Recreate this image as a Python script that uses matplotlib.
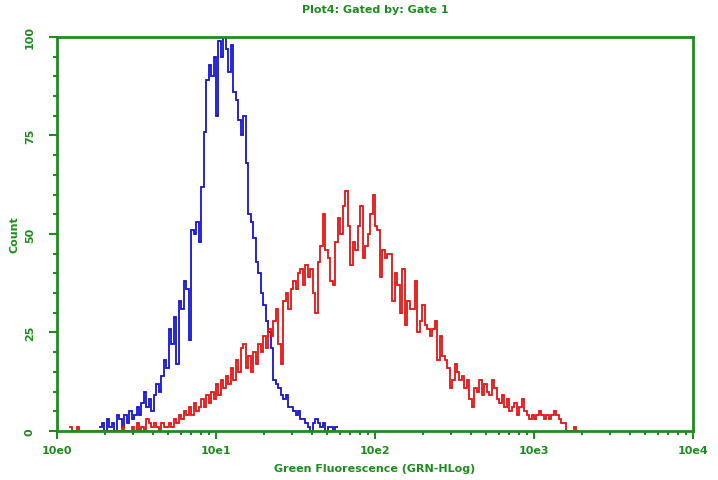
import numpy as np
import matplotlib
matplotlib.use("Agg")
import matplotlib.pyplot as plt
from matplotlib.ticker import FixedLocator, NullFormatter

# ---- data: 256 log channels over 4 decades (64 channels / decade) ----
channels_per_decade = 64

blue_start = 17
blue_counts = [1, 2, 0, 3, 1, 2, 0, 4,
               3, 1, 4, 2, 5, 3, 4, 6, 4,
               7, 10, 6, 8, 5, 9, 12, 10, 14, 18, 16, 26, 22, 29, 17, 33, 31, 38, 36, 23,
               51, 50, 53, 48, 62, 76, 89, 93, 90, 95, 80, 99, 95, 100, 97, 91, 98, 86,
               84, 79, 75, 80, 68, 55, 53, 49, 43, 40, 35, 32, 28, 25, 21, 13, 12, 11,
               9, 8, 9, 6, 6, 5, 4, 5, 3, 3, 2, 1, 0, 2, 3, 2, 1, 2, 0, 1, 1, 0, 1]

red_start = 5
red_counts = [1, 0, 0, 1, 0, 0, 0, 0, 0, 0, 0, 0, 0, 0, 0, 0, 0, 0, 0, 0, 0,
              1, 0, 0, 0, 1, 0, 2, 0, 1, 0, 3, 2, 1, 2, 1, 0, 2, 1, 1, 2, 1, 3, 2,
              4, 3, 5, 4, 6, 4, 7, 5, 6, 8, 6, 9, 7, 10, 8, 12, 9, 13, 11, 14, 12,
              16, 13, 18, 15, 21, 22, 16, 19, 15, 20, 17, 22, 20, 24, 21, 26, 24, 28,
              31, 22, 17, 33, 35, 31, 36, 38, 36, 40, 41, 37, 42, 39, 41, 35, 30, 43,
              47, 55, 46, 44, 38, 37, 48, 54, 50, 57, 61, 52, 42, 48, 46, 52, 57, 44,
              47, 50, 55, 60, 52, 51, 39, 46, 44, 45, 45, 33, 40, 37, 30, 41, 27, 33,
              31, 31, 38, 25, 28, 32, 27, 26, 24, 26, 28, 18, 24, 19, 18, 16, 11, 13,
              17, 15, 13, 14, 11, 13, 8, 6, 11, 10, 13, 9, 12, 10, 9, 13, 11, 8, 7, 9,
              6, 8, 5, 6, 7, 4, 6, 8, 5, 4, 3, 4, 3, 4, 5, 4, 3, 4, 3, 4, 5, 4, 3, 2,
              2, 0, 0, 0, 1, 0]

title = "Plot4: Gated by: Gate 1"
x_label = "Green Fluorescence (GRN-HLog)"
y_label = "Count"
x_ticks = [1, 10, 100, 1000, 10000]
x_tick_labels = ["10e0", "10e1", "10e2", "10e3", "10e4"]
y_ticks = [0, 25, 50, 75, 100]

# ---- styling ----
green = "#1e8c1e"
blue = "#1414d2"
red = "#e41414"

fig = plt.figure(figsize=(7.18, 4.81), dpi=100)
ax = fig.add_axes([0.0794, 0.102, 0.8858, 0.819])


def edges_for(start, n):
    return 10 ** (np.arange(start, start + n + 1) / channels_per_decade)


ax.stairs(blue_counts, edges_for(blue_start, len(blue_counts)), color=blue, lw=1.3, baseline=None)
ax.stairs(red_counts, edges_for(red_start, len(red_counts)), color=red, lw=1.3, baseline=None)

ax.set_xscale("log")
ax.set_xlim(1, 10000)
ax.set_ylim(0, 100)

ax.xaxis.set_major_locator(FixedLocator(x_ticks))
ax.set_xticklabels(x_tick_labels)
minor = [m * 10 ** d for d in range(4) for m in range(2, 10)]
ax.xaxis.set_minor_locator(FixedLocator(minor))
ax.xaxis.set_minor_formatter(NullFormatter())

ax.set_yticks(y_ticks)
ax.set_yticks(np.arange(0, 101, 5), minor=True)
for lab in ax.get_yticklabels():
    lab.set_rotation(90)
    lab.set_va("center")

for sp in ax.spines.values():
    sp.set_color(green)
    sp.set_linewidth(2)

ax.tick_params(axis="both", which="both", colors=green, direction="out", width=1.5,
               labelsize=8, labelcolor=green)
ax.tick_params(axis="both", which="major", length=6)
ax.tick_params(axis="both", which="minor", length=3)
ax.tick_params(axis="y", pad=10)
ax.tick_params(axis="x", pad=4)

for lab in ax.get_xticklabels() + ax.get_yticklabels():
    lab.set_fontweight("bold")

ax.set_title(title, color=green, fontsize=8, fontweight="bold", pad=18)
ax.set_xlabel(x_label, color=green, fontsize=8, fontweight="bold", labelpad=6)
ax.set_ylabel(y_label, color=green, fontsize=8, fontweight="bold", labelpad=4)

fig.savefig("out.png", dpi=100, facecolor="white")
